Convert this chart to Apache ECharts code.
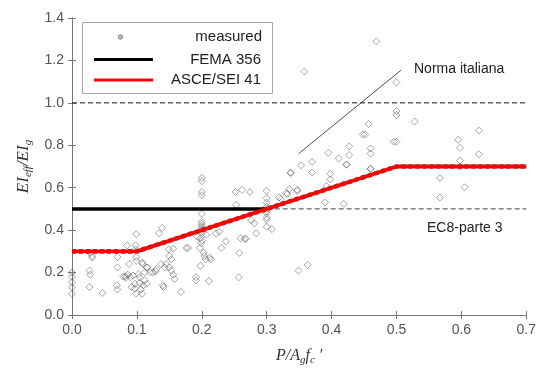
<!DOCTYPE html>
<html>
<head>
<meta charset="utf-8">
<script src="https://cdn.jsdelivr.net/npm/echarts@6/dist/echarts.min.js"></script>
<style>
  html, body { margin: 0; padding: 0; background: #fff; }
  #chart { width: 539px; height: 371px; }
</style>
</head>
<body>
<div id="chart"></div>
<script>
// Axis ticks
const xTicks = [0, 0.1, 0.2, 0.3, 0.4, 0.5, 0.6, 0.7];
const yTicks = [0, 0.2, 0.4, 0.6, 0.8, 1.0, 1.2, 1.4];

// Measured effective stiffness ratios (P/Ag f'c, EIeff/EIg)
const measuredX = [
  0, 0, 0, 0, 0,
  0.027, 0.028, 0.027, 0.028, 0.031, 0.031,
  0.047,
  0.07, 0.07, 0.069, 0.07,
  0.079, 0.086, 0.094, 0.102, 0.104, 0.112, 0.115, 0.109, 0.099, 0.099, 0.097, 0.097, 0.099, 0.092,
  0.112, 0.115, 0.125, 0.13, 0.14, 0.141, 0.145, 0.15, 0.153, 0.156, 0.15, 0.153, 0.158, 0.156, 0.168, 0.176,
  0.085, 0.098, 0.098, 0.099, 0.134, 0.139, 0.108, 0.116, 0.088, 0.082, 0.09, 0.121, 0.129, 0.137, 0.143,
  0.149, 0.11, 0.104, 0.106, 0.108, 0.083,
  0.2, 0.2, 0.2, 0.2, 0.2, 0.2, 0.2, 0.2, 0.2, 0.2, 0.2, 0.198, 0.199, 0.197, 0.203, 0.204, 0.206, 0.198,
  0.191, 0.191, 0.211, 0.212, 0.214, 0.179, 0.207, 0.222, 0.227, 0.193, 0.2,
  0.252, 0.262, 0.274, 0.253, 0.276, 0.281, 0.284, 0.26, 0.266, 0.268, 0.237, 0.23, 0.258, 0.257,
  0.3, 0.3, 0.3, 0.3, 0.3, 0.3, 0.3, 0.3, 0.3, 0.3, 0.308, 0.322, 0.332, 0.337, 0.347, 0.347, 0.319, 0.33,
  0.349, 0.363,
  0.358, 0.469, 0.5, 0.5, 0.5, 0.528, 0.457, 0.452, 0.448, 0.5, 0.496, 0.46, 0.46, 0.427, 0.427, 0.395,
  0.411, 0.423, 0.423, 0.37, 0.353, 0.37, 0.337, 0.398, 0.398, 0.46, 0.39, 0.419, 0.335, 0.392, 0.46,
  0.567, 0.567, 0.595, 0.598, 0.598, 0.598, 0.605, 0.627, 0.627
];
const measuredY = [
  0.20, 0.18, 0.155, 0.13, 0.10,
  0.209, 0.19, 0.132, 0.293, 0.278, 0.27,
  0.104,
  0.273, 0.224, 0.14, 0.12,
  0.181, 0.19, 0.186, 0.193, 0.178, 0.201, 0.224, 0.24, 0.255, 0.273, 0.147, 0.124, 0.101, 0.132,
  0.163, 0.147, 0.201, 0.216, 0.14, 0.132, 0.24, 0.224, 0.209, 0.19, 0.278, 0.263, 0.17, 0.313, 0.109, 0.316,
  0.328, 0.328, 0.309, 0.381, 0.385, 0.411, 0.247, 0.224, 0.24, 0.183, 0.178, 0.201, 0.206, 0.24, 0.224,
  0.309, 0.14, 0.15, 0.12, 0.10, 0.175,
  0.646, 0.631, 0.58, 0.565, 0.477, 0.44, 0.43, 0.42, 0.41, 0.40, 0.39, 0.362, 0.339, 0.316, 0.293, 0.278, 0.263, 0.232,
  0.178, 0.163, 0.16, 0.27, 0.263, 0.316, 0.378, 0.385, 0.393, 0.37, 0.35,
  0.58, 0.59, 0.58, 0.519, 0.447, 0.432, 0.385, 0.362, 0.359, 0.359, 0.347, 0.316, 0.293, 0.178,
  0.585, 0.55, 0.53, 0.51, 0.50, 0.49, 0.48, 0.46, 0.45, 0.416, 0.405, 0.547, 0.57, 0.669, 0.59, 0.585, 0.554, 0.574,
  0.209, 0.236,
  1.148, 1.29, 1.096, 0.961, 0.943, 0.912, 0.90, 0.851, 0.851, 0.817, 0.817, 0.785, 0.761, 0.795, 0.754, 0.765,
  0.738, 0.708, 0.71, 0.722, 0.706, 0.672, 0.672, 0.666, 0.639, 0.688, 0.531, 0.524, 0.594, 0.608, 0.69,
  0.646, 0.554, 0.826, 0.788, 0.728, 0.70, 0.602, 0.869, 0.758
];

// Code provisions
const femaX = [0, 0.3];
const femaY = [0.5, 0.5];
const asceX = [0, 0.1, 0.5, 0.7];
const asceY = [0.3, 0.3, 0.7, 0.7];
const upperX = [0, 0.7];
const upperY = [1.0, 1.0];
const ec8X = [0.3, 0.7];
const ec8Y = [0.5, 0.5];
// Leader line for the "Norma italiana" note
const leaderX = [0.349, 0.507];
const leaderY = [0.76, 1.154];

const zip = (xs, ys) => xs.map((x, i) => [x, ys[i]]);

const labelFont = '"Liberation Sans", Arial, sans-serif';
const serif = '"Liberation Serif", "Times New Roman", serif';

function baseAxis(extra) {
  return Object.assign({
    type: 'value',
    axisLine: { show: true, lineStyle: { color: '#777', width: 1 } },
    axisTick: { show: true, inside: true, length: 4, lineStyle: { color: '#777' } },
    splitLine: { show: false },
    axisLabel: {
      color: '#555', fontSize: 14, fontFamily: labelFont, margin: 8,
      formatter: v => v.toFixed(1)
    }
  }, extra);
}

const chart = echarts.init(document.getElementById('chart'), null, { renderer: 'canvas' });

chart.setOption({
  animation: false,
  backgroundColor: '#fff',
  grid: { left: 72, right: 11, top: 18, bottom: 49, containLabel: false },
  xAxis: [
    baseAxis({
      min: xTicks[0], max: xTicks[xTicks.length - 1], interval: 0.1,
      name: '{i|P/A}{s|g}{i|f}{s|c}{i| \u2032}',
      nameLocation: 'middle', nameGap: 30,
      nameTextStyle: {
        rich: {
          i: { fontFamily: serif, fontStyle: 'italic', fontSize: 16, color: '#333' },
          s: { fontFamily: serif, fontStyle: 'italic', fontSize: 11, color: '#333', padding: [10, 0, 0, 0] }
        }
      }
    }),
    baseAxis({
      min: xTicks[0], max: xTicks[xTicks.length - 1], interval: 0.1, position: 'top',
      axisLabel: { show: false }
    })
  ],
  yAxis: [
    baseAxis({
      min: yTicks[0], max: yTicks[yTicks.length - 1], interval: 0.2,
      name: '{i|EI}{s|eff}{i|/EI}{s|g}',
      nameLocation: 'middle', nameGap: 38, nameRotate: 90,
      nameTextStyle: {
        rich: {
          i: { fontFamily: serif, fontStyle: 'italic', fontSize: 17, color: '#333' },
          s: { fontFamily: serif, fontStyle: 'italic', fontSize: 11, color: '#333', padding: [10, 0, 0, 0] }
        }
      }
    }),
    baseAxis({
      min: yTicks[0], max: yTicks[yTicks.length - 1], interval: 0.2, position: 'right',
      axisLabel: { show: false }
    })
  ],
  series: [
    {
      name: 'measured', type: 'scatter', z: 2,
      data: zip(measuredX, measuredY),
      symbol: 'diamond', symbolSize: [7, 7],
      itemStyle: { color: 'rgba(255,255,255,0)', borderColor: 'rgba(70,70,70,0.6)', borderWidth: 1 },
      emphasis: { disabled: true }
    },
    {
      name: 'upper', type: 'line', z: 3, data: zip(upperX, upperY), showSymbol: false,
      lineStyle: { color: '#111', width: 1, type: [5, 3] }
    },
    {
      name: 'EC8-parte 3', type: 'line', z: 3, data: zip(ec8X, ec8Y), showSymbol: false,
      lineStyle: { color: '#666', width: 1.2, type: [5, 3] }
    },
    {
      name: 'leader', type: 'line', z: 3, data: zip(leaderX, leaderY), showSymbol: false,
      lineStyle: { color: '#222', width: 0.8 }
    },
    {
      name: 'FEMA 356', type: 'line', z: 5, data: zip(femaX, femaY), showSymbol: false,
      lineStyle: { color: '#000', width: 3.5 }
    },
    {
      name: 'Norma italiana', type: 'line', z: 5, data: zip(asceX, asceY), showSymbol: false,
      lineStyle: { color: 'rgba(40,40,40,0.8)', width: 4.6, type: [4, 3] }
    },
    {
      name: 'ASCE/SEI 41', type: 'line', z: 6, data: zip(asceX, asceY), showSymbol: false,
      lineStyle: { color: '#ff0000', width: 3.8 }
    }
  ],
  graphic: [
    // Legend box
    { type: 'rect', shape: { x: 82.5, y: 22.5, width: 190, height: 71 },
      style: { fill: '#fff', stroke: '#aaa', lineWidth: 1 }, z: 20 },
    { type: 'circle', shape: { cx: 120.5, cy: 37, r: 2.2 },
      style: { fill: '#bbb', stroke: '#888', lineWidth: 1 }, z: 21 },
    { type: 'line', shape: { x1: 94, y1: 59.5, x2: 153, y2: 59.5 },
      style: { stroke: '#000', lineWidth: 3 }, z: 21 },
    { type: 'line', shape: { x1: 94, y1: 80, x2: 153, y2: 80 },
      style: { stroke: '#ff0000', lineWidth: 3 }, z: 21 },
    { type: 'text', x: 262, y: 37, z: 21,
      style: { text: 'measured', fill: '#222', font: '15px ' + labelFont, textAlign: 'right', textVerticalAlign: 'middle' } },
    { type: 'text', x: 261, y: 59.5, z: 21,
      style: { text: 'FEMA 356', fill: '#222', font: '15px ' + labelFont, textAlign: 'right', textVerticalAlign: 'middle' } },
    { type: 'text', x: 261, y: 80, z: 21,
      style: { text: 'ASCE/SEI 41', fill: '#222', font: '15px ' + labelFont, textAlign: 'right', textVerticalAlign: 'middle' } },
    // Notes
    { type: 'text', x: 414, y: 69, z: 21,
      style: { text: 'Norma italiana', fill: '#222', font: '14px ' + labelFont, textAlign: 'left', textVerticalAlign: 'middle' } },
    { type: 'text', x: 427, y: 228, z: 21,
      style: { text: 'EC8-parte 3', fill: '#222', font: '14px ' + labelFont, textAlign: 'left', textVerticalAlign: 'middle' } }
  ]
});
</script>
</body>
</html>
